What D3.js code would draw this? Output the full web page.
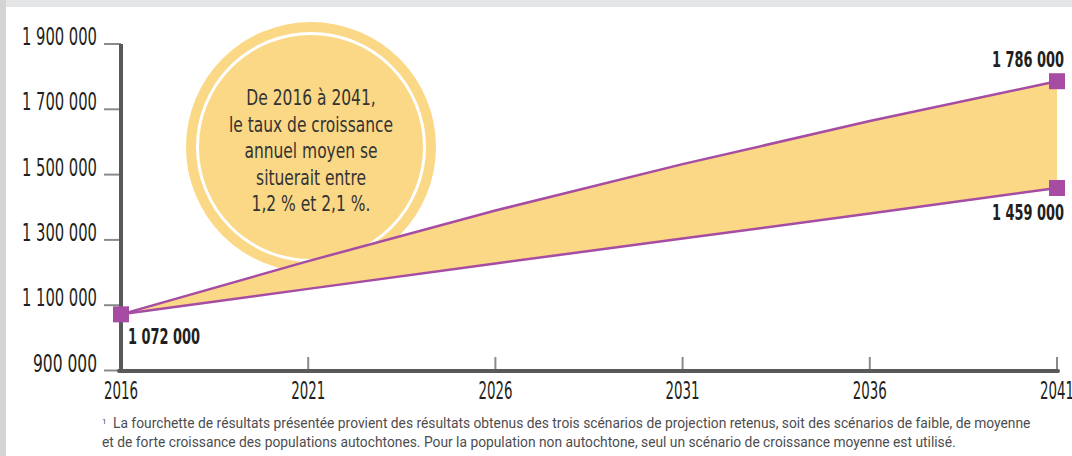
<!DOCTYPE html>
<html>
<head>
<meta charset="utf-8">
<script src="https://cdn.jsdelivr.net/npm/d3@7"></script>
<style>
  html, body { margin: 0; padding: 0; background: #fff; }
  svg { display: block; }
</style>
</head>
<body>
<svg width="1072" height="456"></svg>
<script>
const years = [2016, 2021, 2026, 2031, 2036, 2041];
const high = [1072000, 1235000, 1390000, 1532000, 1664000, 1786000];
const low = [1072000, 1150000, 1228000, 1304000, 1381000, 1459000];
const yTicks = [900000, 1100000, 1300000, 1500000, 1700000, 1900000];
const noteLines = [
    "De 2016 à 2041,",
    "le taux de croissance",
    "annuel moyen se",
    "situerait entre",
    "1,2 % et 2,1 %."
];
const footnote = [
    "La fourchette de résultats présentée provient des résultats obtenus des trois scénarios de projection retenus, soit des scénarios de faible, de moyenne",
    "et de forte croissance des populations autochtones. Pour la population non autochtone, seul un scénario de croissance moyenne est utilisé."
];

const svg = d3.select("svg");
const condensed = "'Liberation Sans Narrow', 'DejaVu Sans Condensed', sans-serif";
const purple = "#a64ca3";
const yellow = "#fbd886";
const axisColor = "#58595b";

// frame
svg.append("rect").attr("x", 0).attr("y", 0).attr("width", 1072).attr("height", 7).attr("fill", "#e4e5e7");
svg.append("rect").attr("x", 0).attr("y", 0).attr("width", 6).attr("height", 456).attr("fill", "#d4d4d4");

const x = d3.scaleLinear().domain([2016, 2041]).range([121, 1057]);
const y = d3.scaleLinear().domain([900000, 1900000]).range([370.5, 44]);

const fmt = v => d3.format(",")(v).replace(/,/g, " ");

// y ticks & labels
const yAxis = svg.append("g");
yAxis.selectAll("line").data(yTicks).enter().append("line")
    .attr("x1", 104).attr("x2", 121)
    .attr("y1", d => y(d)).attr("y2", d => y(d))
    .attr("stroke", "#8a8b8d").attr("stroke-width", 2);
yAxis.selectAll("text").data(yTicks).enter().append("text")
    .attr("x", 97).attr("y", d => y(d) + 1)
    .attr("text-anchor", "end")
    .attr("font-family", condensed).attr("font-size", 24)
    .attr("fill", "#231f20")
    .attr("textLength", d => d >= 1000000 ? 75 : 64)
    .attr("lengthAdjust", "spacingAndGlyphs")
    .text(fmt);

// x ticks & labels
const xAxis = svg.append("g");
xAxis.selectAll("line").data(years.slice(1)).enter().append("line")
    .attr("x1", d => x(d)).attr("x2", d => x(d))
    .attr("y1", 357).attr("y2", 370)
    .attr("stroke", "#8a8b8d").attr("stroke-width", 2);
xAxis.selectAll("text").data(years).enter().append("text")
    .attr("x", d => x(d)).attr("y", 399)
    .attr("text-anchor", "middle")
    .attr("font-family", condensed).attr("font-size", 24)
    .attr("fill", "#231f20")
    .attr("textLength", 34)
    .attr("lengthAdjust", "spacingAndGlyphs")
    .text(d => d);

// bubble
const bubble = svg.append("g");
bubble.append("circle").attr("cx", 311).attr("cy", 147).attr("r", 125).attr("fill", yellow);
bubble.append("circle").attr("cx", 311).attr("cy", 147).attr("r", 113.5)
    .attr("fill", "none").attr("stroke", "#fff").attr("stroke-width", 3);
bubble.selectAll("text").data(noteLines).enter().append("text")
    .attr("transform", (d, i) => `translate(311,${105 + i * 26.5}) scale(0.82,1)`)
    .attr("text-anchor", "middle")
    .attr("font-family", condensed).attr("font-size", 21)
    .attr("fill", "#333")
    .text(d => d);

// band
const data = years.map((yr, i) => ({ year: yr, hi: high[i], lo: low[i] }));
const area = d3.area().x(d => x(d.year)).y0(d => y(d.lo)).y1(d => y(d.hi));
svg.append("path").datum(data).attr("d", area).attr("fill", yellow);

const lineHi = d3.line().x(d => x(d.year)).y(d => y(d.hi));
const lineLo = d3.line().x(d => x(d.year)).y(d => y(d.lo));
svg.append("path").datum(data).attr("d", lineHi).attr("fill", "none").attr("stroke", purple).attr("stroke-width", 2.5);
svg.append("path").datum(data).attr("d", lineLo).attr("fill", "none").attr("stroke", purple).attr("stroke-width", 2.5);

// axes lines
svg.append("line").attr("x1", 121).attr("x2", 121).attr("y1", 44).attr("y2", 372)
    .attr("stroke", axisColor).attr("stroke-width", 4);
svg.append("line").attr("x1", 119).attr("x2", 1058).attr("y1", 371).attr("y2", 371)
    .attr("stroke", axisColor).attr("stroke-width", 4).attr("stroke-linecap", "round");

// markers
const markers = [
    { year: years[0], v: high[0] },
    { year: years[5], v: high[5] },
    { year: years[5], v: low[5] }
];
svg.selectAll("rect.m").data(markers).enter().append("rect")
    .attr("class", "m")
    .attr("x", d => x(d.year) - 8).attr("y", d => y(d.v) - 8)
    .attr("width", 16).attr("height", 16)
    .attr("fill", purple);

// value labels
const valueLabels = [
    { v: high[0], x: 128, y: 344, anchor: "start" },
    { v: high[5], x: 1064, y: 67, anchor: "end" },
    { v: low[5], x: 1064, y: 220, anchor: "end" }
];
svg.selectAll("text.val").data(valueLabels).enter().append("text")
    .attr("class", "val")
    .attr("x", d => d.x).attr("y", d => d.y)
    .attr("text-anchor", d => d.anchor)
    .attr("font-family", condensed).attr("font-size", 21).attr("font-weight", "bold")
    .attr("fill", "#231f20")
    .attr("textLength", 72)
    .attr("lengthAdjust", "spacingAndGlyphs")
    .text(d => fmt(d.v));

// footnote
const fn = svg.append("text")
    .attr("font-family", "Roboto, sans-serif").attr("font-size", 13.8).attr("fill", "#4d4d4f");
fn.append("tspan").attr("x", 102).attr("y", 428).attr("font-size", 8).attr("dy", -4).text("1");
fn.append("tspan").attr("x", 113).attr("y", 428).text(footnote[0]);
fn.append("tspan").attr("x", 102).attr("y", 447).text(footnote[1]);
</script>
</body>
</html>
